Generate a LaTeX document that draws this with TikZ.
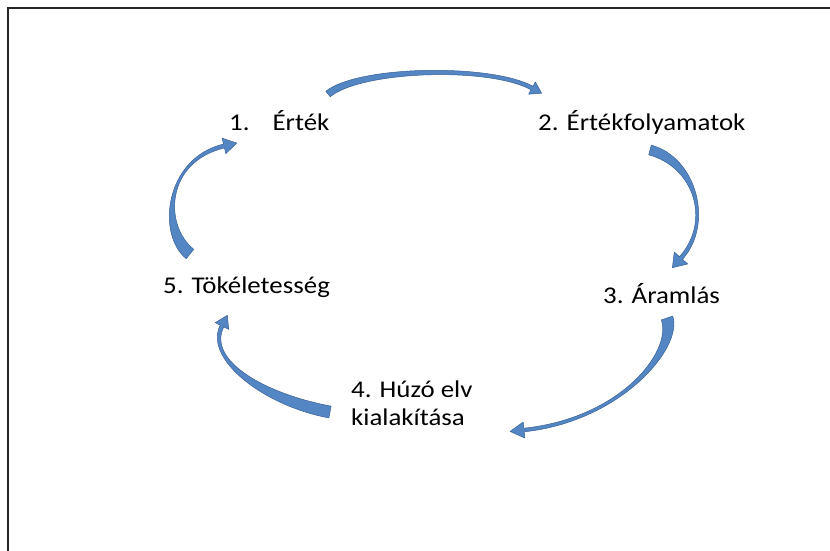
\documentclass[tikz,border=0pt]{standalone}
\usepackage{fontspec}
\setmainfont{Carlito}
\usetikzlibrary{calc}
\definecolor{arrowblue}{RGB}{84,134,196}
\definecolor{arrowedge}{RGB}{58,98,150}
\newcommand\lbl[1]{\scalebox{1.12}[1]{#1}}
\newcommand\blockarrow[8]{%
 \coordinate (q0) at (#1); \coordinate (q1) at (#2); \coordinate (q2) at (#3); \coordinate (q3) at (#4);
 \filldraw[arrowshape] ($(q0)!#5!90:(q1)$) .. controls ($(q1)!#5!-90:(q0)$) and ($(q2)!#6!90:(q3)$) .. ($(q3)!#6!-90:(q2)$)
   -- ($(q3)!#7!-90:(q2)$) -- ($(q3)!#8!180:(q2)$) -- ($(q3)!#7!90:(q2)$) -- ($(q3)!#6!90:(q2)$)
   .. controls ($(q2)!#6!-90:(q3)$) and ($(q1)!#5!90:(q0)$) .. ($(q0)!#5!-90:(q1)$) -- cycle;}
\begin{document}
\begin{tikzpicture}[x=1pt,y=-1pt,
  arrowshape/.style={fill=arrowblue,draw=arrowedge,line width=0.5pt,line join=round},
  label/.style={anchor=base west,inner sep=0pt,font=\fontsize{24}{28}\selectfont,align=left},
  frameline/.style={draw=black!85,line width=2pt}]
\useasboundingbox (0,0) rectangle (830,550);
\fill[white] (0,0) rectangle (830,550);
\draw[frameline] (8,551) -- (8,8) -- (831,8);
% labels
\node[label] (n1) at (229,130) {\lbl{1.\hspace{20.5pt}Érték}};
\node[label] (n2) at (538,130) {\lbl{2. Értékfolyamatok}};
\node[label] (n3) at (603,303) {\lbl{3. Áramlás}};
\node[label] (n4) at (351,425) {\lbl{4. Húzó elv}\\\lbl{kialakítása}};
\node[label] (n5) at (163,293) {\lbl{5. Tökéletesség}};
% curved block arrows
\blockarrow{328,94}{360,68}{490,65}{532,88}{3.5pt}{2pt}{7pt}{11pt}
\blockarrow{650,150}{695,162}{713,222}{681,258}{5pt}{2pt}{9pt}{13pt}
\blockarrow{667,318}{678,350}{620,420}{524,430}{6pt}{1.8pt}{8pt}{14pt}
\blockarrow{330,412}{265,400}{205,360}{222,326}{6pt}{2pt}{7.5pt}{12pt}
\blockarrow{190,254}{160,230}{165,160}{224,146}{6pt}{2pt}{8pt}{13pt}
\end{tikzpicture}
\end{document}
